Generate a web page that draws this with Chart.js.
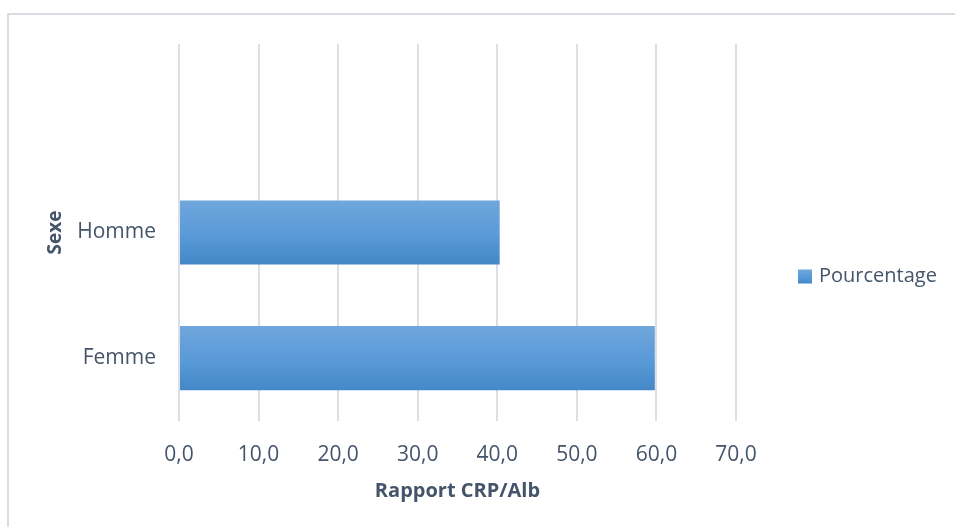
<!DOCTYPE html>
<html>
<head>
<meta charset="utf-8">
<script src="https://cdn.jsdelivr.net/npm/chart.js@4"></script>
<style>
  html, body { margin: 0; padding: 0; background: #fff; }
  #wrap { width: 955px; height: 527px; position: relative; }
</style>
</head>
<body>
<div id="wrap"><canvas id="chart"></canvas></div>
<script>
// data (top row is an empty category, as in the source sheet)
const categories = ["", "Homme", "Femme"]
const pourcentage = [null, 40.3, 59.8]
const seriesLabel = "Pourcentage"
const xTitle = "Rapport CRP/Alb"
const yTitle = "Sexe"

const textColor = "#44546a"
const gridColor = "#dcdfe5"
const barTop = "#70a6dc"
const barMid = "#5b9bd9"
const barBottom = "#4488c8"

const barPct = 0.51

function barGradient(ctx, y0, y1) {
  const g = ctx.createLinearGradient(0, y0, 0, y1)
  g.addColorStop(0, barTop)
  g.addColorStop(0.5, barMid)
  g.addColorStop(1, barBottom)
  return g
}

// light frame around the chart, like the office export
const framePlugin = {
  id: "frame",
  beforeDraw(chart) {
    const ctx = chart.ctx
    ctx.save()
    ctx.strokeStyle = "#d9dde3"
    ctx.lineWidth = 2
    ctx.beginPath()
    ctx.moveTo(8, chart.height)
    ctx.lineTo(8, 14)
    ctx.lineTo(chart.width, 14)
    ctx.stroke()
    ctx.restore()
  }
}

// legend on the right, sitting away from the plot like in excel
const sideLegend = {
  id: "sideLegend",
  afterDraw(chart) {
    const { ctx, chartArea } = chart
    const x = chartArea.right + 62
    const y = (chartArea.top + chartArea.bottom) / 2 + 44
    const box = 14
    ctx.save()
    ctx.fillStyle = barGradient(ctx, y - box / 2, y + box / 2)
    ctx.fillRect(x, y - box / 2, box, box)
    ctx.fillStyle = textColor
    ctx.font = "20px 'Open Sans'"
    ctx.textBaseline = "middle"
    ctx.fillText(chart.data.datasets[0].label, x + box + 7, y)
    ctx.restore()
  }
}

new Chart(document.getElementById("chart"), {
  type: "bar",
  data: {
    labels: categories,
    datasets: [{
      label: seriesLabel,
      data: pourcentage,
      backgroundColor: (context) => {
        const chart = context.chart
        const yScale = chart.scales.y
        if (!chart.chartArea || !yScale || context.dataIndex === undefined) return barMid
        const center = yScale.getPixelForValue(context.dataIndex)
        const half = (chart.chartArea.height / categories.length) * barPct / 2
        return barGradient(chart.ctx, center - half, center + half)
      },
      borderWidth: 0,
      barPercentage: 1,
      categoryPercentage: barPct
    }]
  },
  options: {
    indexAxis: "y",
    responsive: true,
    maintainAspectRatio: false,
    animation: false,
    layout: { padding: { top: 44, left: 40, right: 219, bottom: 20 } },
    plugins: {
      legend: { display: false },
      tooltip: { enabled: false }
    },
    scales: {
      x: {
        min: 0,
        max: 70,
        afterFit: (scale) => { scale.height = 86 },
        ticks: {
          stepSize: 10,
          padding: 21,
          color: textColor,
          font: { family: "Open Sans", size: 21 },
          callback: v => v.toFixed(1).replace(".", ",")
        },
        grid: { color: gridColor, lineWidth: 2, drawTicks: false },
        border: { display: false },
        title: {
          display: true,
          text: xTitle,
          color: textColor,
          font: { family: "Open Sans", size: 20, weight: "bold" },
          padding: { top: 0, bottom: 4 }
        }
      },
      y: {
        afterFit: (scale) => { scale.width = 139 },
        ticks: {
          padding: 23,
          color: textColor,
          font: { family: "Open Sans", size: 21 }
        },
        grid: { display: false, drawTicks: false },
        border: { display: false },
        title: {
          display: true,
          text: yTitle,
          color: textColor,
          font: { family: "Open Sans", size: 19, weight: "bold" },
          padding: { top: 4, bottom: 4 }
        }
      }
    }
  },
  plugins: [framePlugin, sideLegend]
})
</script>
</body>
</html>
